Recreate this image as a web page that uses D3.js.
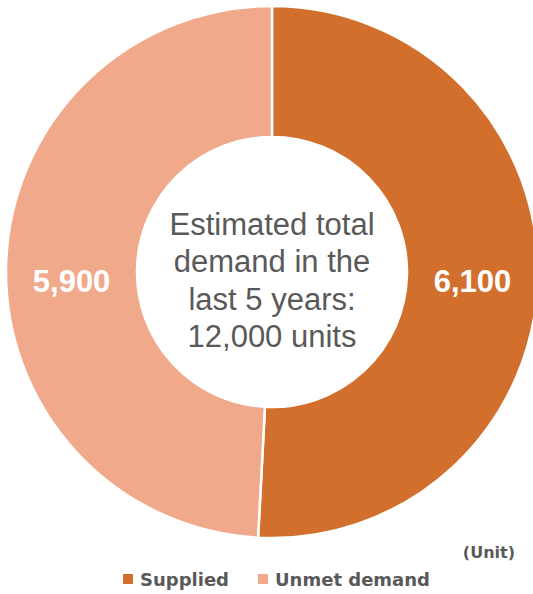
<!DOCTYPE html>
<html>
<head>
<meta charset="utf-8">
<script src="https://cdn.jsdelivr.net/npm/d3@7"></script>
<style>
  body { margin: 0; background: #fff; }
  svg { display: block; }
</style>
</head>
<body>
<div id="chart"></div>
<script>
// data
const categories = ['Supplied', 'Unmet demand']
const values = [6100, 5900]
const colors = ['#D36F2C', '#F0A98A']
const centerLines = ['Estimated total', 'demand in the', 'last 5 years:', '12,000 units']

const width = 533, height = 594
const cx = 272, cy = 272
const outerR = 266, innerR = 135

const svg = d3.select('#chart').append('svg')
  .attr('width', width)
  .attr('height', height)

const data = categories.map((c, i) => ({name: c, value: values[i], color: colors[i]}))

const pie = d3.pie()
  .sort(null)
  .value(d => d.value)

const arc = d3.arc()
  .innerRadius(innerR)
  .outerRadius(outerR)

const g = svg.append('g')
  .attr('transform', `translate(${cx},${cy})`)

const slices = g.selectAll('.slice')
  .data(pie(data))
  .enter().append('g')
  .attr('class', 'slice')

slices.append('path')
  .attr('d', arc)
  .attr('fill', d => d.data.color)
  .attr('stroke', '#fff')
  .attr('stroke-width', 2.5)

// value labels sit on the ring, level with each other
slices.append('text')
  .attr('x', d => arc.centroid(d)[0])
  .attr('y', 20)
  .attr('text-anchor', 'middle')
  .attr('fill', '#fff')
  .attr('font-family', 'Arial, "Liberation Sans", sans-serif')
  .attr('font-weight', 'bold')
  .attr('font-size', 31)
  .text(d => d3.format(',')(d.data.value))

// center label
const lineH = 37.5
g.append('text')
  .attr('text-anchor', 'middle')
  .attr('fill', '#595959')
  .attr('font-family', 'Arial, "Liberation Sans", sans-serif')
  .attr('font-size', 31)
  .selectAll('tspan')
  .data(centerLines)
  .enter().append('tspan')
  .attr('x', 0)
  .attr('y', (d, i) => (i - 1) * lineH)
  .text(d => d)

// unit note
svg.append('text')
  .attr('x', 515)
  .attr('y', 558)
  .attr('text-anchor', 'end')
  .attr('fill', '#595959')
  .attr('font-family', '"DejaVu Sans", Verdana, sans-serif')
  .attr('font-weight', 'bold')
  .attr('font-size', 16)
  .text('(Unit)')

// legend
const legendX = [123, 258]
const legend = svg.selectAll('.legend')
  .data(data)
  .enter().append('g')
  .attr('class', 'legend')
  .attr('transform', (d, i) => `translate(${legendX[i]},574)`)

legend.append('rect')
  .attr('width', 10)
  .attr('height', 10)
  .attr('fill', d => d.color)

legend.append('text')
  .attr('x', 17)
  .attr('y', 12)
  .attr('fill', '#595959')
  .attr('font-family', '"DejaVu Sans", Verdana, sans-serif')
  .attr('font-weight', 'bold')
  .attr('font-size', 18)
  .text(d => d.name)
</script>
</body>
</html>
